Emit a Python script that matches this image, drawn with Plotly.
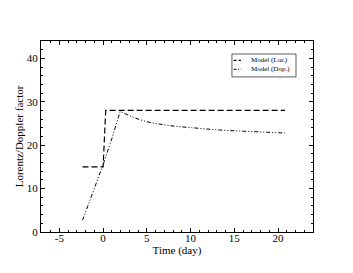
import plotly.graph_objects as go

series_names = ["Model (Lor.)", "Model (Dop.)"]

lor_x = [-2.35, 0.0, 0.3, 20.8]
lor_y = [15.0, 15.0, 28.0, 28.0]

dop_x = [-2.35, -1.0, 0.0, 1.0, 1.95, 3.0, 4.0, 5.0, 6.0, 8.0, 10.0, 12.0, 14.0, 16.0, 18.0, 20.8]
dop_y = [2.7, 9.8, 15.5, 21.5, 27.8, 26.8, 26.0, 25.4, 25.0, 24.4, 24.0, 23.7, 23.4, 23.2, 23.0, 22.8]

x_ticks = [-5, 0, 5, 10, 15, 20]
x_ticktext = ["-5", "0", "5", "10", "15", "20"]
y_ticks = [0, 10, 20, 30, 40]

x_title = "Time (day)"
y_title = "Lorentz/Doppler factor"

font = "Liberation Serif, Times New Roman, serif"
dashes = ["6px,3px", "4px,2px,1px,2px,1px,2px"]
widths = [1.2, 1.0]

fig = go.Figure()
fig.add_trace(go.Scatter(x=lor_x, y=lor_y, mode="lines", name=series_names[0], showlegend=False,
                         line=dict(color="black", width=widths[0], dash=dashes[0])))
fig.add_trace(go.Scatter(x=dop_x, y=dop_y, mode="lines", name=series_names[1], showlegend=False,
                         line=dict(color="black", width=widths[1], dash=dashes[1])))

# compact legend box drawn manually
fig.add_shape(type="rect", xref="paper", yref="paper", x0=0.702, x1=0.9375, y0=0.812, y1=0.932,
              line=dict(color="#333", width=0.8), fillcolor="white", layer="above")
rows_y = [0.899, 0.852]
for i, name in enumerate(series_names):
    fig.add_shape(type="line", xref="paper", yref="paper", x0=0.708, x1=0.735, y0=rows_y[i], y1=rows_y[i],
                  line=dict(color="black", width=widths[i], dash="3px,2px" if i == 0 else "3px,1.5px,1px,1.5px"),
                  layer="above")
    fig.add_annotation(xref="paper", yref="paper", x=0.765, y=rows_y[i], text=name, showarrow=False,
                       xanchor="left", yanchor="middle", font=dict(family=font, size=7, color="black"))

axis_common = dict(showgrid=False, zeroline=False, showline=True, linecolor="black", linewidth=1,
                   mirror="allticks", ticks="inside", ticklen=4, tickcolor="black",
                   tickfont=dict(family=font, size=11, color="black"))

fig.update_xaxes(range=[-7.1, 24], tickvals=x_ticks, ticktext=x_ticktext, ticklabelstandoff=-4,
                 minor=dict(dtick=1, ticks="inside", ticklen=2, tickcolor="black"),
                 title=dict(text=x_title, font=dict(family=font, size=11, color="black"), standoff=0),
                 **axis_common)
fig.update_yaxes(range=[0, 44], tickvals=y_ticks,
                 minor=dict(dtick=2, ticks="inside", ticklen=2, tickcolor="black"),
                 title=dict(text=y_title, font=dict(family=font, size=11, color="black"), standoff=0),
                 **axis_common)

fig.update_layout(width=353, height=273, margin=dict(l=41, r=40, t=41, b=41, autoexpand=False),
                  plot_bgcolor="white", paper_bgcolor="white", showlegend=False)

fig.write_html("out.html", config={"displayModeBar": False},
               post_script="document.body.style.margin='0px';document.body.style.overflow='hidden';")
